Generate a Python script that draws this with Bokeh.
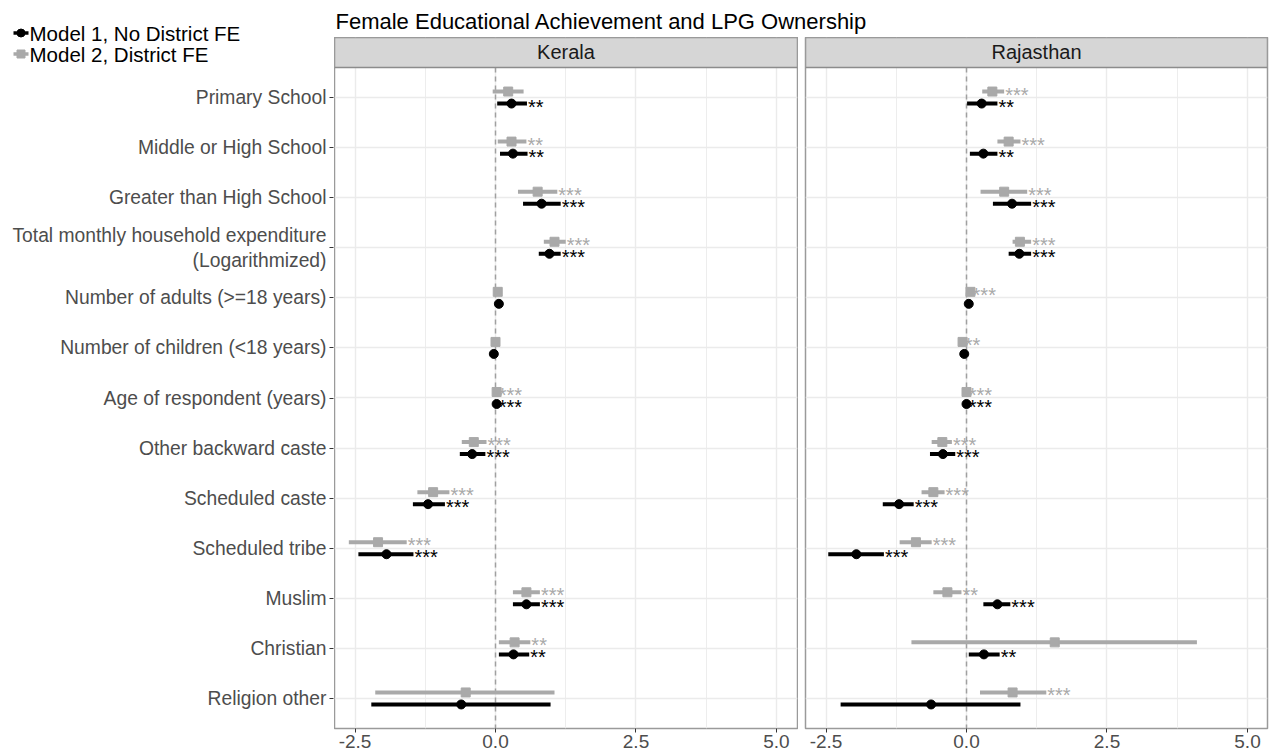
from bokeh.plotting import figure
from bokeh.layouts import row, column
from bokeh.models import (Range1d, FixedTicker, Label, ColumnDataSource,
                          PrintfTickFormatter)
from bokeh.core.properties import value
from bokeh.embed import file_html
from bokeh.resources import INLINE

# ---------------- data ----------------
categories = ["Primary School", "Middle or High School", "Greater than High School",
              "Total monthly household expenditure\n(Logarithmized)",
              "Number of adults (>=18 years)", "Number of children (<18 years)",
              "Age of respondent (years)", "Other backward caste", "Scheduled caste",
              "Scheduled tribe", "Muslim", "Christian", "Religion other"]
panels = ["Kerala", "Rajasthan"]
models = ["Model 1, No District FE", "Model 2, District FE"]
chart_title = "Female Educational Achievement and LPG Ownership"
x_ticks = [-2.5, 0.0, 2.5, 5.0]
x_minor = [-1.25, 1.25, 3.75]

kerala_m1_est = [0.285, 0.31, 0.82, 0.96, 0.06, -0.03, 0.02, -0.415, -1.20, -1.94, 0.55, 0.32, -0.61]
kerala_m1_lo = [0.03, 0.08, 0.49, 0.77, 0.04, -0.05, 0.00, -0.635, -1.47, -2.44, 0.31, 0.06, -2.21]
kerala_m1_hi = [0.56, 0.57, 1.16, 1.16, 0.08, -0.01, 0.04, -0.18, -0.90, -1.46, 0.79, 0.60, 0.98]
kerala_m1_sig = ["**", "**", "***", "***", "", "", "***", "***", "***", "***", "***", "**", ""]

kerala_m2_est = [0.226, 0.285, 0.75, 1.05, 0.04, 0.00, 0.02, -0.386, -1.11, -2.09, 0.55, 0.34, -0.53]
kerala_m2_lo = [-0.05, 0.04, 0.40, 0.86, 0.02, -0.02, 0.00, -0.60, -1.39, -2.61, 0.31, 0.06, -2.14]
kerala_m2_hi = [0.50, 0.55, 1.10, 1.25, 0.06, 0.02, 0.04, -0.16, -0.82, -1.58, 0.79, 0.62, 1.05]
kerala_m2_sig = ["", "**", "***", "***", "", "", "***", "***", "***", "***", "***", "**", ""]

raj_m1_est = [0.27, 0.30, 0.81, 0.94, 0.04, -0.04, 0.00, -0.42, -1.20, -1.96, 0.55, 0.31, -0.63]
raj_m1_lo = [0.01, 0.06, 0.47, 0.75, 0.02, -0.06, -0.02, -0.65, -1.49, -2.46, 0.30, 0.04, -2.24]
raj_m1_hi = [0.55, 0.55, 1.15, 1.15, 0.06, -0.02, 0.02, -0.20, -0.94, -1.47, 0.78, 0.59, 0.96]
raj_m1_sig = ["**", "**", "***", "***", "", "", "***", "***", "***", "***", "***", "**", ""]

raj_m2_est = [0.46, 0.75, 0.67, 0.95, 0.07, -0.07, 0.00, -0.43, -0.59, -0.90, -0.34, 1.57, 0.82]
raj_m2_lo = [0.28, 0.55, 0.25, 0.82, 0.05, -0.09, -0.02, -0.62, -0.80, -1.19, -0.59, -0.98, 0.24]
raj_m2_hi = [0.67, 0.96, 1.08, 1.15, 0.09, -0.05, 0.02, -0.26, -0.39, -0.62, -0.09, 4.10, 1.42]
raj_m2_sig = ["***", "***", "***", "***", "***", "**", "***", "***", "***", "***", "**", "", "***"]

# ---------------- style ----------------
FONT = "Liberation Sans"
BLACK = "#000000"
GREY = "#A9A9A9"
DODGE = 0.12
N = len(categories)
Y_BOTTOM, Y_TOP, STRIP_TOP = N - 0.4, -0.6, -1.199
X_START = -2.865
LABEL_Y_TOP = -0.621   # y value at the top of the label column (below legend)


def bare(p):
    p.background_fill_color = "white"
    p.border_fill_color = "white"
    p.outline_line_color = None
    p.grid.visible = False


def make_panel(name, m1, m2, width, border_left, border_right, x_end):
    p = figure(width=width, height=719, x_range=Range1d(X_START, x_end),
               y_range=Range1d(Y_BOTTOM, STRIP_TOP), output_backend="svg",
               toolbar_location=None, y_axis_location=None,
               min_border_left=border_left, min_border_right=border_right,
               min_border_top=0, min_border_bottom=28)
    p.background_fill_color = "white"
    p.border_fill_color = "white"
    p.outline_line_color = "#9A9A9A"
    p.outline_line_width = 1.5

    p.xaxis.ticker = FixedTicker(ticks=x_ticks, minor_ticks=x_minor)
    p.xaxis.formatter = PrintfTickFormatter(format="%.1f")
    p.xaxis.axis_line_color = None
    p.xaxis.major_tick_line_color = "#333333"
    p.xaxis.major_tick_out = 4
    p.xaxis.major_tick_in = 0
    p.xaxis.minor_tick_line_color = None
    p.xaxis.major_label_text_font = FONT
    p.xaxis.major_label_text_font_size = "19px"
    p.xaxis.major_label_text_color = "#4D4D4D"
    p.xaxis.major_label_standoff = 2

    p.xgrid.ticker = FixedTicker(ticks=x_ticks, minor_ticks=x_minor)
    p.xgrid.grid_line_color = "#EBEBEB"
    p.xgrid.grid_line_width = 1.4
    p.xgrid.minor_grid_line_color = "#EDEDED"
    p.xgrid.minor_grid_line_width = 1.0
    p.ygrid.ticker = FixedTicker(ticks=list(range(N)))
    p.ygrid.grid_line_color = "#EBEBEB"
    p.ygrid.grid_line_width = 1.4

    # zero reference line
    p.segment(x0=[0], y0=[Y_TOP], x1=[0], y1=[Y_BOTTOM], line_color="#A0A0A0",
              line_width=1.5, line_dash="5 4")

    # facet strip
    p.quad(left=[X_START], right=[x_end], top=[STRIP_TOP], bottom=[Y_TOP],
           fill_color="#D6D6D6", line_color="#8C8C8C", line_width=1.5)
    p.text(x=[(X_START + x_end) / 2], y=[(STRIP_TOP + Y_TOP) / 2], text=[name],
           text_align="center", text_baseline="middle", text_font_size="20px",
           text_color="#1A1A1A", text_font=value(FONT))

    for est, lo, hi, sig, col, off, marker in (
            (*m2, GREY, -DODGE, "square"),
            (*m1, BLACK, DODGE, "circle")):
        src = ColumnDataSource(dict(y=[i + off for i in range(N)], est=est, lo=lo,
                                    hi=hi, sig=sig))
        p.segment(x0="lo", x1="hi", y0="y", y1="y", source=src,
                  line_color=col, line_width=4, line_cap="butt")
        p.text(x="hi", y="y", text="sig", source=src, text_color=col,
               text_font=value(FONT), text_font_size="20px", text_align="left",
               text_baseline="alphabetic", x_offset=1, y_offset=3)
        p.scatter(x="est", y="y", source=src, marker=marker, size=9,
                  fill_color=col, line_color=col)
    return p


p1 = make_panel(panels[0],
                (kerala_m1_est, kerala_m1_lo, kerala_m1_hi, kerala_m1_sig),
                (kerala_m2_est, kerala_m2_lo, kerala_m2_hi, kerala_m2_sig),
                464, 0, 1, 5.374)
p2 = make_panel(panels[1],
                (raj_m1_est, raj_m1_lo, raj_m1_hi, raj_m1_sig),
                (raj_m2_est, raj_m2_lo, raj_m2_hi, raj_m2_sig),
                477, 7, 8, 5.356)

# ---- title strip above the two panels ----
ph = figure(width=941, height=37, x_range=Range1d(0, 1), y_range=Range1d(0, 1),
            output_backend="svg", toolbar_location=None, x_axis_location=None,
            y_axis_location=None, min_border=0)
bare(ph)
ph.add_layout(Label(x=1, y=16, x_units="screen", y_units="screen", text=chart_title,
                    text_font=FONT, text_font_size="22px", text_color="#000000",
                    text_baseline="alphabetic"))

# ---- category axis (left column, shares the panel scale) ----
pl = figure(width=334, height=690, x_range=Range1d(0, 1),
            y_range=Range1d(Y_BOTTOM, LABEL_Y_TOP), output_backend="svg",
            toolbar_location=None, x_axis_location=None,
            min_border_left=333, min_border_right=0, min_border_top=0,
            min_border_bottom=28)
bare(pl)
pl.yaxis.ticker = FixedTicker(ticks=list(range(N)))
pl.yaxis.major_label_overrides = {i: c for i, c in enumerate(categories)}
pl.yaxis.axis_line_color = None
pl.yaxis.major_tick_line_color = "#333333"
pl.yaxis.major_tick_out = 4
pl.yaxis.major_tick_in = 0
pl.yaxis.minor_tick_line_color = None
pl.yaxis.major_label_text_font = FONT
pl.yaxis.major_label_text_font_size = "19.3px"
pl.yaxis.major_label_text_color = "#4D4D4D"
pl.yaxis.major_label_standoff = 3

# ---- legend key (top-left corner), drawn in its own small canvas ----
pg = figure(width=334, height=66, x_range=Range1d(0, 334), y_range=Range1d(66, 0),
            output_backend="svg", toolbar_location=None, x_axis_location=None,
            y_axis_location=None, min_border=0)
bare(pg)
key_y = [32.5, 53.5]
key_col = [BLACK, GREY]
pg.segment(x0=[13, 13], x1=[28, 28], y0=key_y, y1=key_y, line_color=key_col,
           line_width=3.5)
pg.scatter(x=[20.5], y=[key_y[0]], marker="circle", size=8, fill_color=BLACK,
           line_color=BLACK)
pg.scatter(x=[20.5], y=[key_y[1]], marker="square", size=8, fill_color=GREY,
           line_color=GREY)
pg.text(x=[29, 29], y=key_y, text=models, text_font=value(FONT),
        text_font_size="20.5px", text_color="#000000", text_baseline="middle",
        text_align="left")

layout = row(column(row(pg), pl), column(ph, row(p1, p2)))
open("out.html", "w").write(file_html(layout, INLINE))
